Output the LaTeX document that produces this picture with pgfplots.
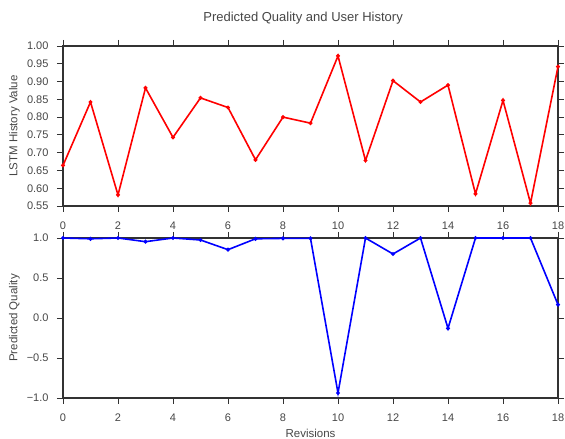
\documentclass[border=0pt]{standalone}
\usepackage{pgfplots}
\pgfplotsset{compat=1.18}
\usepackage{fontspec}
\setmainfont{Liberation Sans}
\definecolor{txt}{RGB}{70,70,70}
\definecolor{axc}{RGB}{50,50,50}
\begin{document}
\begin{tikzpicture}
\pgfplotsset{
  every axis/.append style={
    scale only axis, width=495pt, height=160pt,
    xmin=0, xmax=18, xtick={0,2,...,18},
    tick align=outside, major tick length=6pt,
    axis line style={axc, line width=1.1pt},
    every tick/.style={axc, line width=0.9pt},
    tick label style={font=\fontsize{11}{13}\selectfont, text=txt},
    label style={font=\fontsize{11.5}{13}\selectfont, text=txt},
    /pgf/number format/assume math mode=true,
    xtick pos=both, ytick pos=both,
    xticklabel pos=lower, yticklabel pos=left,
    yticklabel style={xshift=-5pt},
    xticklabel style={yshift=-6pt},
  }
}
\path[use as bounding box] (0pt,0pt) rectangle (565pt,439pt);
\begin{axis}[
  at={(63pt,233pt)}, anchor=south west,
  ymin=0.55, ymax=1.00, ytick={0.55,0.60,...,1.001},
  yticklabel style={/pgf/number format/.cd, fixed, fixed zerofill, precision=2},
  ylabel={LSTM History Value},
  ylabel style={at={(axis description cs:-0.098,0.5)}, anchor=center},
  title={Predicted Quality and User History},
  title style={font=\fontsize{13}{15}\selectfont, text=txt, at={(axis description cs:0.485,1)}, anchor=base, yshift=18pt},
]
\addplot[red, line width=1.6pt, mark=*, mark size=1.1pt] coordinates {
(0,0.664) (1,0.8425) (2,0.581) (3,0.882) (4,0.743) (5,0.854) (6,0.827)
(7,0.680) (8,0.800) (9,0.783) (10,0.972) (11,0.678) (12,0.9025) (13,0.8425)
(14,0.890) (15,0.584) (16,0.847) (17,0.558) (18,0.942)
};
\end{axis}
\begin{axis}[
  at={(63pt,41pt)}, anchor=south west,
  ymin=-1, ymax=1, ytick={-1,-0.5,0,0.5,1},
  yticklabels={−1.0,−0.5,0.0,0.5,1.0},
  ylabel={Predicted Quality},
  ylabel style={at={(axis description cs:-0.098,0.5)}, anchor=center},
  xlabel={Revisions},
  xlabel style={at={(axis description cs:0.5,0)}, anchor=base, yshift=-40pt},
]
\addplot[blue, line width=1.6pt, mark=*, mark size=1.1pt] coordinates {
(0,1.0) (1,0.99) (2,1.0) (3,0.954) (4,1.0) (5,0.975) (6,0.854) (7,0.99)
(8,0.995) (9,0.995) (10,-0.9375) (11,1.0) (12,0.80) (13,1.0) (14,-0.129)
(15,1.0) (16,1.0) (17,1.0) (18,0.167)
};
\end{axis}
\end{tikzpicture}
\end{document}
